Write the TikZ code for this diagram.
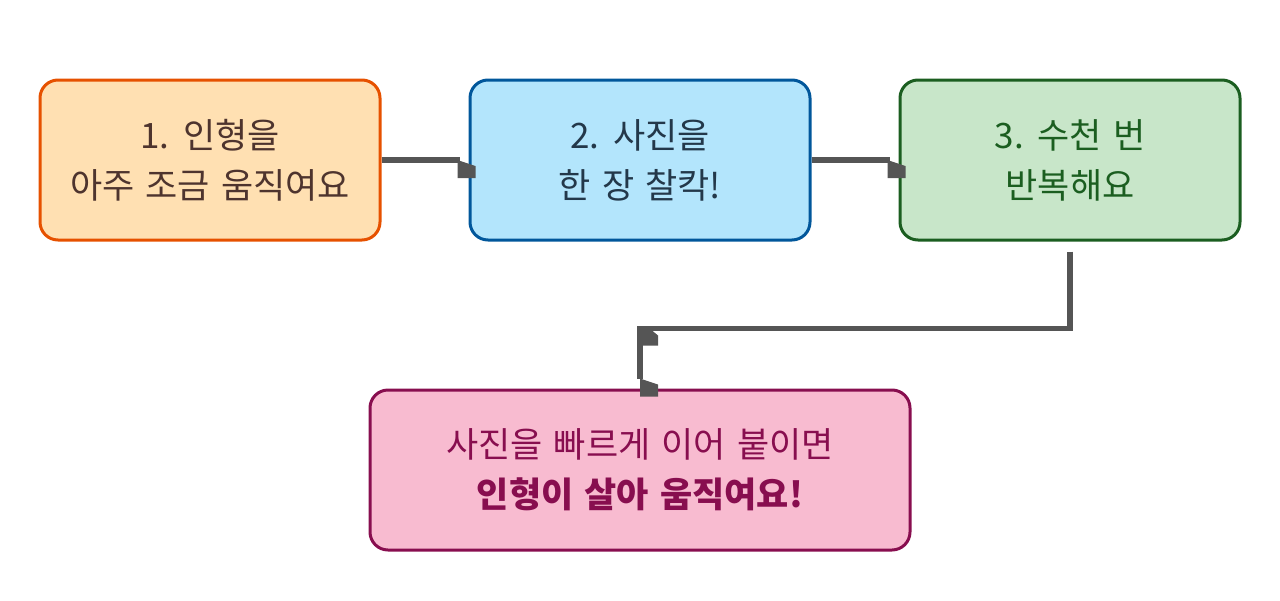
\documentclass[tikz,border=0pt]{standalone}
\usepackage{fontspec}
\newfontfamily\kr{Noto Sans CJK KR}
\usetikzlibrary{calc}
\definecolor{conncol}{HTML}{555555}
\definecolor{o1}{HTML}{FFE0B2}\definecolor{o2}{HTML}{E65100}\definecolor{o3}{HTML}{4E342E}
\definecolor{b1}{HTML}{B3E5FC}\definecolor{b2}{HTML}{01579B}\definecolor{b3}{HTML}{23384A}
\definecolor{g1}{HTML}{C8E6C9}\definecolor{g2}{HTML}{1B5E20}\definecolor{g3}{HTML}{1B5E20}
\definecolor{p1}{HTML}{F8BBD0}\definecolor{p2}{HTML}{880E4F}\definecolor{p3}{HTML}{880E4F}
\tikzset{
  box/.style={draw, rounded corners=18pt, line width=3pt, minimum width=340pt, minimum height=160pt, align=center, font={\kr\fontsize{35}{50}\selectfont\spaceskip=0.32em\relax}, inner sep=0pt},
  conn/.style={draw=conncol, line width=5.5pt},
  tipfill/.style={fill=conncol},
}
\begin{document}
\begin{tikzpicture}[x=1pt,y=-1pt]
\useasboundingbox (0,0) rectangle (1280,600);
\node[box, fill=o1, draw=o2, text=o3] (n1) at (210,160) {1. 인형을\\아주 조금 움직여요};
\node[box, fill=b1, draw=b2, text=b3] (n2) at (640,160) {2. 사진을\\한 장 찰칵!};
\node[box, fill=g1, draw=g2, text=g3] (n3) at (1070,160) {3. 수천 번\\반복해요};
\node[box, fill=p1, draw=p2, text=p3, minimum width=540pt] (n4) at (640,470) {사진을 빠르게 이어 붙이면\\\textbf{인형이 살아 움직여요!}};
% connector 1
\draw[conn] (n1.east) -- ($(n2.west)+(-9,0)$);
\fill[tipfill] ($(n2.west)+(-11,0)$) -- ++(18,6) -- ++(0,12) -- ++(-18,0) -- cycle;
% connector 2
\draw[conn] (n2.east) -- ($(n3.west)+(-9,0)$);
\fill[tipfill] ($(n3.west)+(-11,0)$) -- ++(18,6) -- ++(0,12) -- ++(-18,0) -- cycle;
% connector 3
\coordinate (s3) at ($(n3.south)+(0,10)$);
\coordinate (e4) at ($(n4.north)+(0,-10)$);
\draw[conn] (s3) |- ($(n4.north)+(0,-60)$) -- (e4);
\fill[tipfill] ($(n4.north)+(0,-58)$) -- ++(12,0) -- ++(6,5) -- ++(0,10) -- ++(-18,0) -- cycle;
\fill[tipfill] ($(n4.north)+(0,-10)$) -- ++(18,6) -- ++(0,12) -- ++(-18,0) -- cycle;
\end{tikzpicture}
\end{document}
